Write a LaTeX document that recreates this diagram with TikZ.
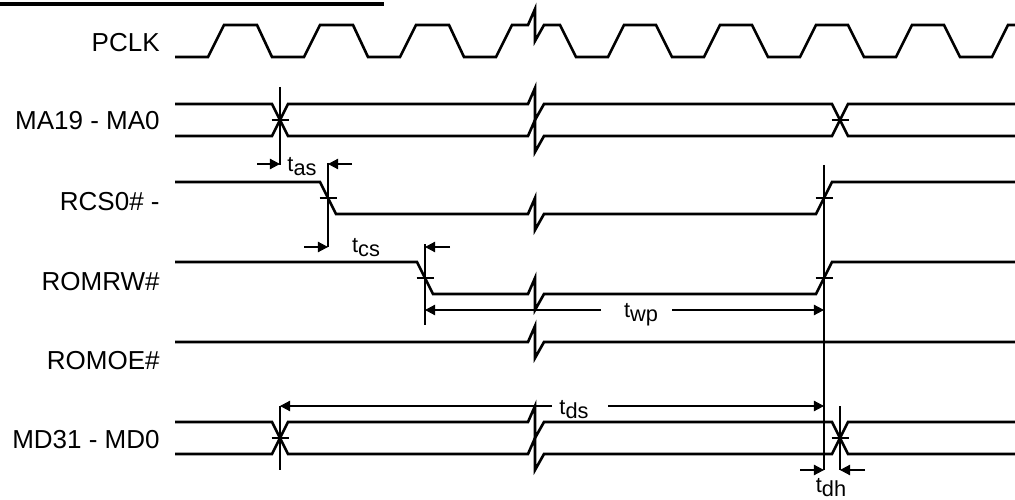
\documentclass[tikz,border=0pt]{standalone}
\usepackage{fontspec}
\setmainfont{Liberation Sans}
\usetikzlibrary{arrows.meta}
% t with a lowered index of the same size
\newcommand{\tsub}[1]{t\raisebox{-2.3pt}{#1}}
% break mark on a level
\newcommand{\cutat}[1]{-- (528,#1) -- (535,#1-16) -- (535,#1+16) -- (544,#1)}
\begin{document}
\begin{tikzpicture}[x=0.02cm,y=-0.02cm,
  sig/.style={line width=1.5pt},
  refl/.style={line width=0.6pt},
  dim/.style={line width=0.6pt,-{Triangle[length=5.8pt,width=6pt]}},
  lbl/.style={anchor=east,inner sep=0pt,font=\fontsize{14.8}{17}\selectfont},
  tl/.style={inner sep=0pt,font=\fontsize{12.4}{14}\selectfont}]
\useasboundingbox (0,0) rectangle (1015,500);
\draw[line width=1.9pt] (0,4) -- (384,4);
% signal names
\node[lbl] (pclk) at (160,43) {PCLK};
\node[lbl] (ma) at (160,121) {MA19 - MA0};
\node[lbl] (rcs) at (160,202) {RCS0\# -};
\node[lbl] (romrw) at (160,282) {ROMRW\#};
\node[lbl] (romoe) at (160,361) {ROMOE\#};
\node[lbl] (md) at (160,440) {MD31 - MD0};
% clock
\draw[sig] (175,57) foreach \k in {0,1,2} {-- (208+96*\k,57) -- (224+96*\k,25) -- (257+96*\k,25) -- (272+96*\k,57)}
  -- (496,57) -- (512,25) \cutat{25} -- (560,25) -- (576,57)
  foreach \k in {0,...,3} {-- (608+96*\k,57) -- (624+96*\k,25) -- (656+96*\k,25) -- (672+96*\k,57)}
  -- (992,57) -- (1008,25) -- (1015,25);
% address and data buses
\foreach \u/\l in {104/136,422/454}{
  \draw[sig] (175,\u) -- (272,\u) -- (288,\l) \cutat{\l} -- (832,\l) -- (848,\u) -- (1015,\u);
  \draw[sig] (175,\l) -- (272,\l) -- (288,\u) \cutat{\u} -- (832,\u) -- (848,\l) -- (1015,\l);
}
\draw[sig] (175,182) -- (320,182) -- (336,214) \cutat{214} -- (816,214) -- (832,182) -- (1015,182);
\draw[sig] (175,262) -- (417,262) -- (433,294) \cutat{294} -- (816,294) -- (832,262) -- (1015,262);
\draw[sig] (175,342) \cutat{342} -- (1015,342);
% crossing marks
\foreach \x/\y in {280/120,840/120,328/198,824/198,425/278,824/278,280/438,840/438}
  \draw[refl] (\x-8.5,\y) -- (\x+8.5,\y);
% reference lines
\draw[refl] (280,87) -- (280,165);
\draw[refl] (328,163) -- (328,247);
\draw[refl] (425,244) -- (425,325);
\draw[refl] (824,165) -- (824,470);
\draw[refl] (280,406) -- (280,470);
\draw[refl] (840,406) -- (840,470);
% timing parameters
\node[tl] (tas) at (302,167) {\tsub{as}};
\node[tl] (tcs) at (366,248) {\tsub{cs}};
\node[tl] (twp) at (641,315) {\tsub{wp}};
\node[tl] (tds) at (574,410) {\tsub{ds}};
\node[tl] (tdh) at (831,488) {\tsub{dh}};
\draw[dim] (257,164) -- (280,164);
\draw[dim] (352,164) -- (328,164);
\draw[dim] (304,247) -- (328,247);
\draw[dim] (450,247) -- (425,247);
\draw[dim] (601,310) -- (425,310);
\draw[dim] (672,310) -- (824,310);
\draw[dim] (552,406) -- (280,406);
\draw[dim] (608,406) -- (824,406);
\draw[dim] (800,470) -- (824,470);
\draw[dim] (865,470) -- (840,470);
\end{tikzpicture}
\end{document}
